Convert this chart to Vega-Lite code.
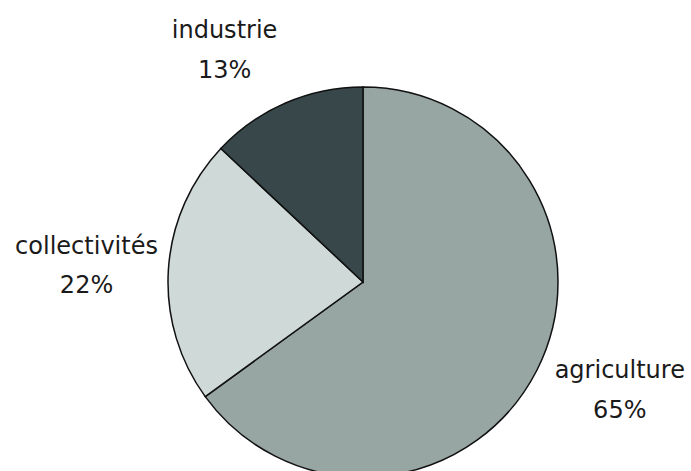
{
  "$schema": "https://vega.github.io/schema/vega-lite/v6.json",
  "width": 726,
  "height": 564,
  "autosize": {"type": "none"},
  "padding": 0,
  "background": "white",
  "config": {"view": {"stroke": null}},
  "data": {"values": [
    {"secteur": "agriculture", "part": 65, "etiquette": "65%"},
    {"secteur": "collectivités", "part": 22, "etiquette": "22%"},
    {"secteur": "industrie", "part": 13, "etiquette": "13%"}
  ]},
  "encoding": {
    "theta": {"field": "part", "type": "quantitative", "stack": true},
    "order": {"field": "secteur", "type": "ordinal"}
  },
  "layer": [
    {
      "mark": {"type": "arc", "outerRadius": 195, "stroke": "#111111", "strokeWidth": 1.5},
      "encoding": {
        "color": {"field": "secteur", "type": "nominal", "legend": null,
          "scale": {"domain": ["agriculture", "collectivités", "industrie"], "range": ["#97a6a3", "#cfd9d8", "#37474a"]}}
      }
    },
    {
      "mark": {"type": "text", "radius": 268, "baseline": "alphabetic", "align": "center", "font": "DejaVu Sans", "fontSize": 24, "fill": "#1a1a1a",
        "dx": {"expr": "datum.secteur === 'industrie' ? -32 : datum.secteur === 'collectivités' ? -9 : 18"},
        "dy": {"expr": "datum.secteur === 'industrie' ? 2 : datum.secteur === 'collectivités' ? -11 : -26"}},
      "encoding": {"text": {"field": "secteur"}, "detail": {"field": "secteur"}}
    },
    {
      "mark": {"type": "text", "radius": 268, "baseline": "alphabetic", "align": "center", "font": "DejaVu Sans", "fontSize": 24, "fill": "#1a1a1a",
        "dx": {"expr": "datum.secteur === 'industrie' ? -32 : datum.secteur === 'collectivités' ? -9 : 18"},
        "dy": {"expr": "datum.secteur === 'industrie' ? 42 : datum.secteur === 'collectivités' ? 28 : 14"}},
      "encoding": {"text": {"field": "etiquette"}, "detail": {"field": "secteur"}}
    }
  ]
}
